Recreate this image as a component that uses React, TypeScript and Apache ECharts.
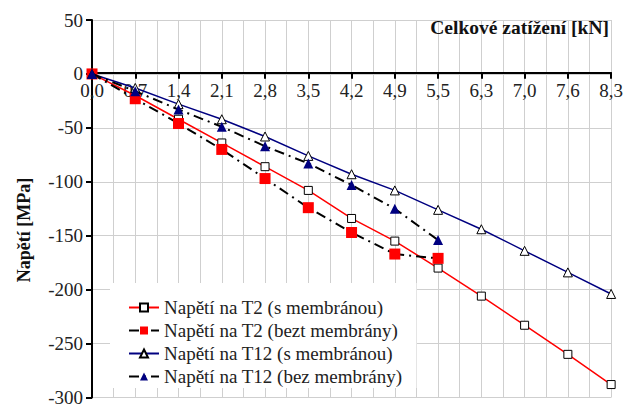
import React, { useEffect, useRef } from "react";
import * as echarts from "echarts";

// Load steps [kN] shown along the horizontal axis
const loadLabels = ["0,0", "0,7", "1,4", "2,1", "2,8", "3,5", "4,2", "4,9", "5,5", "6,3", "7,0", "7,6", "8,3"];

// Stress [MPa] at each load step
const t2WithMembrane = [0, -20, -42, -64, -86, -108, -134, -155, -180, -206, -233, -260, -288];
const t2NoMembrane = [0, -23, -46, -70, -97, -124, -147, -167, -171];
const t12WithMembrane = [0, -13, -28, -42, -58, -76, -93, -108, -126, -144, -164, -184, -204];
const t12NoMembrane = [0, -16, -33, -49, -67, -83, -103, -125, -154];

const seriesNames = [
  "Napětí na T2 (s membránou)",
  "Napětí na T2 (bezt membrány)",
  "Napětí na T12 (s membránou)",
  "Napětí na T12 (bez membrány)",
];

const Y_MIN = -300;
const Y_MAX = 50;
const GRID = { left: 92, right: 12, top: 20, bottom: 8 };
const HEIGHT = 407;

const FONT = "Liberation Serif";
const TEXT = "#222";
const GRID_LINE = "#cfcfcf";
const toPoints = (vals: number[]) => vals.map((v, i) => [i, v]);
const dashDot = [10, 5, 2, 5];

export default function App() {
  const ref = useRef<HTMLDivElement>(null);

  useEffect(() => {
    if (!ref.current) return;
    const chart = echarts.init(ref.current, null, { renderer: "svg" });
    // lift the bottom axis up to the zero line
    const gridH = HEIGHT - GRID.top - GRID.bottom;
    const zeroOffset = -gridH * (0 - Y_MIN) / (Y_MAX - Y_MIN);
    chart.setOption({
      animation: false,
      backgroundColor: "#fff",
      textStyle: { fontFamily: FONT },
      title: {
        text: "Celkové zatížení [kN]",
        right: 12,
        top: 12,
        textStyle: { fontFamily: FONT, fontSize: 19.5, fontWeight: "bold", color: "#111" },
      },
      graphic: [
        {
          type: "text",
          x: 24,
          y: 230,
          rotation: Math.PI / 2,
          style: {
            text: "Napětí [MPa]",
            font: `bold 18px ${FONT}`,
            fill: "#111",
            textAlign: "center",
            textVerticalAlign: "middle",
          },
        },
      ],
      grid: GRID,
      legend: {
        orient: "vertical",
        left: 110,
        top: 283,
        padding: [15, 14, 2, 18],
        backgroundColor: "#fff",
        itemWidth: 30,
        itemHeight: 10,
        itemGap: 4,
        data: seriesNames,
        textStyle: { fontFamily: FONT, fontSize: 19, color: TEXT },
      },
      xAxis: {
        type: "value",
        min: 0,
        max: loadLabels.length - 1,
        interval: 1,
        position: "bottom",
        offset: zeroOffset,
        axisLine: { onZero: false, lineStyle: { color: "#000", width: 2 } },
        axisTick: { show: true, length: 6, lineStyle: { color: "#000", width: 2 } },
        axisLabel: {
          fontFamily: FONT,
          fontSize: 19,
          color: TEXT,
          margin: 8,
          formatter: (v: number) => loadLabels[Math.round(v)] ?? "",
        },
        splitLine: { show: true, lineStyle: { color: GRID_LINE, width: 1 } },
        minorTick: { show: false, splitNumber: 2 },
        minorSplitLine: { show: true, lineStyle: { color: GRID_LINE, width: 1 } },
      },
      yAxis: {
        type: "value",
        min: Y_MIN,
        max: Y_MAX,
        interval: 50,
        axisLine: { show: true, onZero: false, lineStyle: { color: "#000", width: 2 } },
        axisTick: { show: true, length: 6, lineStyle: { color: "#000", width: 2 } },
        axisLabel: { fontFamily: FONT, fontSize: 19, color: TEXT, margin: 9 },
        splitLine: { show: true, lineStyle: { color: GRID_LINE, width: 1 } },
      },
      series: [
        {
          name: seriesNames[0],
          type: "line",
          data: toPoints(t2WithMembrane),
          symbol: "rect",
          symbolSize: 8,
          lineStyle: { color: "#ff0000", width: 1.5 },
          itemStyle: { color: "#fff", borderColor: "#000", borderWidth: 1 },
          z: 2,
        },
        {
          name: seriesNames[1],
          type: "line",
          data: toPoints(t2NoMembrane),
          symbol: "rect",
          symbolSize: 11,
          lineStyle: { color: "#000", width: 2, type: dashDot },
          itemStyle: { color: "#ff0000", borderWidth: 0 },
          z: 3,
        },
        {
          name: seriesNames[2],
          type: "line",
          data: toPoints(t12WithMembrane),
          symbol: "triangle",
          symbolSize: 9,
          lineStyle: { color: "#000080", width: 1.5 },
          itemStyle: { color: "#fff", borderColor: "#000", borderWidth: 1 },
          z: 4,
        },
        {
          name: seriesNames[3],
          type: "line",
          data: toPoints(t12NoMembrane),
          symbol: "triangle",
          symbolSize: 10,
          lineStyle: { color: "#000", width: 2, type: dashDot },
          itemStyle: { color: "#000080", borderWidth: 0 },
          z: 5,
        },
      ],
    });
    return () => chart.dispose();
  }, []);

  return (
    <div
      ref={ref}
      style={{ position: "fixed", left: 0, top: 0, width: 626, height: 407 }}
    />
  );
}
